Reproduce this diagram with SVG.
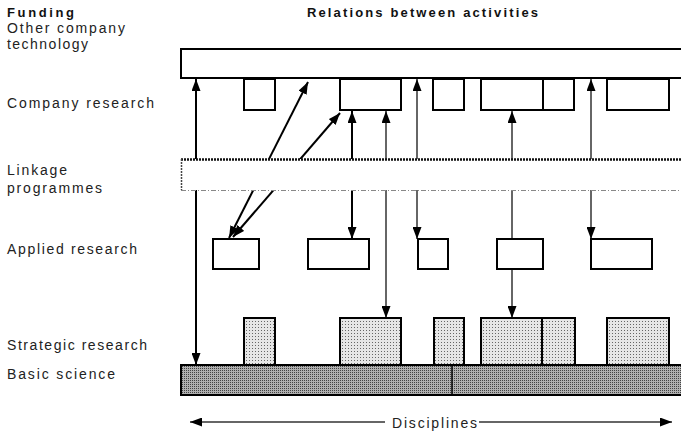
<svg xmlns="http://www.w3.org/2000/svg" width="681" height="431" viewBox="0 0 681 431">
<style>
.lbl{font-family:"Liberation Sans",Arial,sans-serif;font-size:14px;fill:#222}
.hdr{font-family:"Liberation Sans",Arial,sans-serif;font-size:13px;font-weight:bold;fill:#111}
.box{fill:#fff;stroke:#000;stroke-width:2}
.strat{fill:url(#light);stroke:#000;stroke-width:2}
.basic{fill:url(#dark);stroke:#000;stroke-width:2}
.c-thick{stroke:#000;stroke-width:2;fill:none}
.c-thin{stroke:#333;stroke-width:1.5;fill:none}
</style>
<defs>
<pattern id="light" width="3" height="3" patternUnits="userSpaceOnUse">
<rect width="3" height="3" fill="#e6e6e6"/>
<rect width="1" height="1" fill="#666"/>
</pattern>
<pattern id="dark" width="2" height="2" patternUnits="userSpaceOnUse">
<rect width="2" height="2" fill="#b0b0b0"/>
<rect width="1" height="1" fill="#444"/>
</pattern>
<marker id="ah" viewBox="0 0 12 9" refX="12" refY="4.5" markerWidth="12" markerHeight="9" markerUnits="userSpaceOnUse" orient="auto-start-reverse">
<path d="M0,0 L12,4.5 L0,9 Z" fill="#000"/>
</marker>
</defs>

<g id="headers">
<text class="hdr" x="7" y="17" textLength="67" lengthAdjust="spacing">Funding</text>
<text class="hdr" x="307" y="17" textLength="231" lengthAdjust="spacing">Relations between activities</text>
</g>

<g id="labels">
<text class="lbl" x="7" y="33" textLength="118" lengthAdjust="spacing">Other company</text>
<text class="lbl" x="7" y="49" textLength="81" lengthAdjust="spacing">technology</text>
<text class="lbl" x="7" y="108" textLength="147" lengthAdjust="spacing">Company research</text>
<text class="lbl" x="7" y="175" textLength="60" lengthAdjust="spacing">Linkage</text>
<text class="lbl" x="7" y="193" textLength="95" lengthAdjust="spacing">programmes</text>
<text class="lbl" x="7" y="254" textLength="130" lengthAdjust="spacing">Applied research</text>
<text class="lbl" x="7" y="350" textLength="140" lengthAdjust="spacing">Strategic research</text>
<text class="lbl" x="7" y="379" textLength="108" lengthAdjust="spacing">Basic science</text>
</g>

<g id="connectors">
<line class="c-thick" x1="196" y1="79" x2="196" y2="365" marker-start="url(#ah)" marker-end="url(#ah)"/>
<line class="c-thick" x1="352" y1="111" x2="352" y2="239" marker-start="url(#ah)" marker-end="url(#ah)"/>
<line class="c-thin" x1="386" y1="111" x2="386" y2="318" marker-start="url(#ah)" marker-end="url(#ah)"/>
<line class="c-thin" x1="417" y1="79" x2="417" y2="239" marker-start="url(#ah)" marker-end="url(#ah)"/>
<line class="c-thin" x1="512" y1="111" x2="512" y2="318" marker-start="url(#ah)" marker-end="url(#ah)"/>
<line class="c-thin" x1="591" y1="79" x2="591" y2="239" marker-start="url(#ah)" marker-end="url(#ah)"/>
<line class="c-thick" x1="229" y1="238" x2="308" y2="82" marker-start="url(#ah)" marker-end="url(#ah)"/>
<line class="c-thick" x1="233" y1="237" x2="340" y2="113" marker-start="url(#ah)" marker-end="url(#ah)"/>
<line class="c-thin" x1="190" y1="422" x2="385" y2="422" marker-start="url(#ah)"/>
<line class="c-thin" x1="479" y1="422" x2="672" y2="422" marker-end="url(#ah)"/>
</g>

<g id="linkage">
<rect x="181" y="159" width="510" height="31" fill="#fff"/>
<line x1="181" y1="159.5" x2="681" y2="159.5" stroke="#111" stroke-width="2.5" stroke-dasharray="2,1"/>
<line x1="181.5" y1="159" x2="181.5" y2="190" stroke="#444" stroke-width="1.5" stroke-dasharray="2,1"/>
<line x1="181" y1="190.5" x2="681" y2="190.5" stroke="#888" stroke-width="1" stroke-dasharray="5,2,1,2"/>
</g>

<g id="other-company-technology">
<rect class="box" x="181" y="49" width="520" height="29"/>
</g>

<g id="company-research">
<rect class="box" x="244" y="79" width="31" height="31"/>
<rect class="box" x="340" y="79" width="61" height="31"/>
<rect class="box" x="433" y="79" width="31" height="31"/>
<rect class="box" x="481" y="79" width="62" height="31"/>
<rect class="box" x="543" y="79" width="31" height="31"/>
<rect class="box" x="607" y="79" width="62" height="31"/>
</g>

<g id="applied-research">
<rect class="box" x="213" y="239" width="46" height="30"/>
<rect class="box" x="308" y="239" width="61" height="30"/>
<rect class="box" x="418" y="239" width="30" height="30"/>
<rect class="box" x="497" y="239" width="46" height="30"/>
<rect class="box" x="591" y="239" width="61" height="30"/>
</g>

<g id="strategic-research">
<rect class="strat" x="244" y="318" width="31" height="47"/>
<rect class="strat" x="340" y="318" width="61" height="47"/>
<rect class="strat" x="434" y="318" width="30" height="47"/>
<rect class="strat" x="481" y="318" width="61" height="47"/>
<rect class="strat" x="542" y="318" width="33" height="47"/>
<rect class="strat" x="607" y="318" width="62" height="47"/>
</g>

<g id="basic-science">
<rect class="basic" x="181" y="365" width="520" height="30"/>
<line x1="452" y1="365" x2="452" y2="395" stroke="#000" stroke-width="1.5"/>
</g>

<g id="disciplines">
<text class="lbl" x="392" y="428" textLength="85" lengthAdjust="spacing">Disciplines</text>
</g>
</svg>
